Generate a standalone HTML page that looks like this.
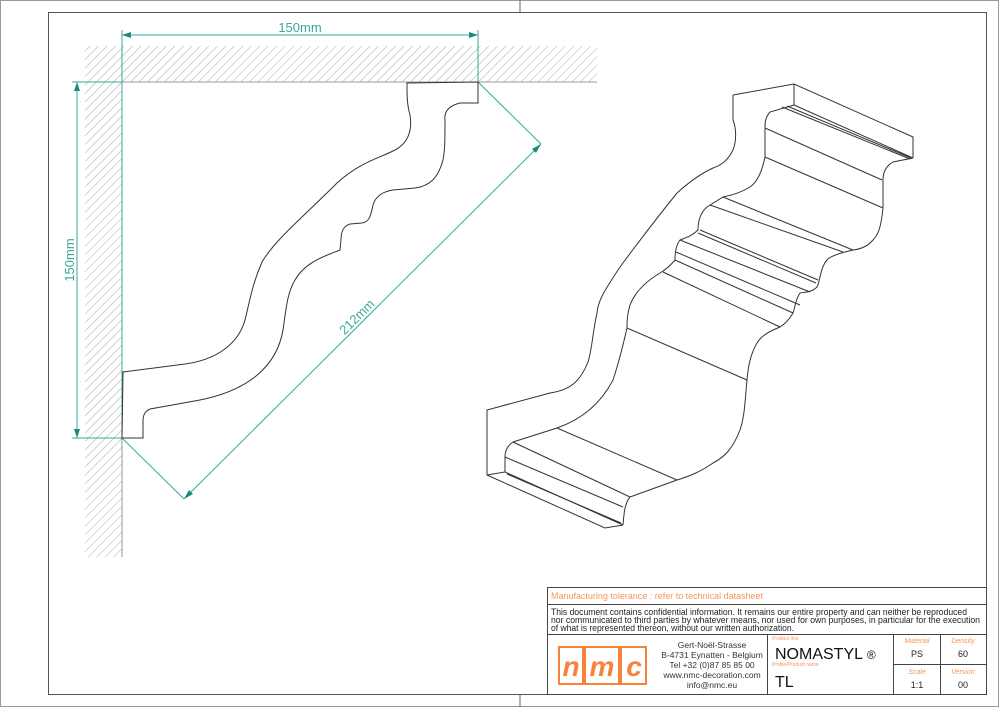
<!DOCTYPE html>
<html><head><meta charset="utf-8"><style>
html,body{margin:0;padding:0;background:#fff}
svg{display:block}
text{font-family:"Liberation Sans",sans-serif}
</style></head><body>
<svg width="1000" height="707" viewBox="0 0 1000 707" xmlns="http://www.w3.org/2000/svg">
<defs>
<pattern id="h" width="6" height="6" patternUnits="userSpaceOnUse" patternTransform="rotate(45)">
<line x1="0" y1="0" x2="0" y2="6" stroke="#aaa" stroke-width="1"/>
</pattern>
</defs>
<rect x="0.5" y="0.5" width="998" height="706" fill="none" stroke="#999"/>
<line x1="520" y1="0" x2="520" y2="12" stroke="#666"/>
<line x1="520" y1="695" x2="520" y2="707" stroke="#666"/>
<rect x="48.5" y="12.5" width="938" height="682" fill="none" stroke="#555"/>

<rect x="85" y="46" width="512" height="36" fill="url(#h)"/>
<rect x="85" y="82" width="37" height="475" fill="url(#h)"/>
<line x1="85" y1="82" x2="597" y2="82" stroke="#999"/>
<line x1="122" y1="82" x2="122" y2="557" stroke="#999"/>

<g stroke="#3aa79a" fill="none" stroke-width="1">
<line x1="122" y1="30" x2="122" y2="440"/>
<line x1="478" y1="30" x2="478" y2="82"/>
<line x1="122" y1="35" x2="478" y2="35"/>
<line x1="72" y1="82" x2="122" y2="82"/>
<line x1="72" y1="438" x2="122" y2="438"/>
<line x1="77" y1="82" x2="77" y2="438"/>
<line x1="478" y1="82" x2="541" y2="144"/>
<line x1="122" y1="438" x2="184" y2="499"/>
<line x1="184" y1="499" x2="541" y2="144"/>
</g>
<g fill="#1a8a7e">
<polygon points="122,35 131,32 131,38"/>
<polygon points="478,35 469,32 469,38"/>
<polygon points="77,82 74,91 80,91"/>
<polygon points="77,438 74,429 80,429"/>
<polygon points="541,144 532,149 536,153"/>
<polygon points="184,499 189,490 193,494"/>
</g>
<g fill="#3aa79a" font-size="13">
<text x="300" y="32" text-anchor="middle">150mm</text>
<text x="0" y="0" text-anchor="middle" transform="translate(74,260) rotate(-90)">150mm</text>
<text x="0" y="0" text-anchor="middle" transform="translate(360,320) rotate(-45)">212mm</text>
</g>

<path d="M407,83 L478,82 L478,103 L460,103 C448,106 444,112 445,120 C445,140 445,150 443,160 C438,178 430,186 415,188 L393,190 C380,192 375,198 373,205 C371,214 370,222 362,223 L350,224 C343,226 341,232 341,240 L340,250 C325,256 305,262 295,280 C287,293 286,310 283,330 C277,365 250,390 200,400 L150,409 C143,412 143,418 143,422 L143,438 L122,438 L123,372 L185,364 C215,360 238,345 245,320 C250,300 252,285 262,262 C275,240 300,220 337,183 C360,162 380,158 395,150 C410,142 412,128 410,115 C407,105 407,95 407,83 Z" fill="none" stroke="#333" stroke-width="1"/>

<g fill="none" stroke="#333" stroke-width="1">
<path d="M733,95 L794,84 L913,137 L913,158"/>
<path d="M733,95 L733,120 C736,127 737,140 733,150 C728,160 722,165 713,168 C700,174 688,183 677,193 C660,214 640,240 620,267 C605,290 598,300 597,313 C593,330 592,350 588,362 C580,382 570,390 550,393 L487,410 L487,475 L605,528 L623,525"/>
<path d="M794,84 L794,105 L770,112 C765,118 765,123 765,128 L765,157 C762,172 757,182 750,187 C742,192 733,195 723,197 L707,207 C700,213 698,222 698,230 C692,236 685,238 680,240 C676,245 675,252 675,260 C670,266 665,270 660,273 C645,282 635,292 630,305 C627,315 627,322 627,328 C622,350 618,365 613,380 C600,405 580,420 557,428 L513,442 C507,446 505,452 505,457 L505,472 L487,475"/>
<path d="M913,158 L893,162 C886,166 883,172 883,180 L883,208 C881,228 878,235 873,240 C868,246 862,249 853,250 C840,253 830,256 827,260 C820,268 820,282 817,287 C812,292 806,292 800,293 C795,300 795,308 793,313 C789,320 785,324 780,327 C765,333 760,338 757,343 C750,355 748,368 747,380 C745,400 745,415 740,430 C733,448 725,457 713,463 C700,472 690,476 677,480 L630,497 C625,503 624,512 623,525"/>
<line x1="794" y1="105" x2="913" y2="158"/>
<line x1="782" y1="107" x2="910" y2="159"/>
<line x1="787" y1="106" x2="911" y2="158"/>
<line x1="765" y1="128" x2="882" y2="180"/>
<line x1="765" y1="157" x2="883" y2="208"/>
<line x1="723" y1="197" x2="853" y2="250"/>
<line x1="710" y1="205" x2="843" y2="252"/>
<line x1="700" y1="230" x2="818" y2="280"/>
<line x1="698" y1="233" x2="816" y2="283"/>
<line x1="680" y1="240" x2="810" y2="292"/>
<line x1="676" y1="252" x2="800" y2="305"/>
<line x1="675" y1="260" x2="793" y2="313"/>
<line x1="663" y1="272" x2="780" y2="327"/>
<line x1="627" y1="328" x2="747" y2="380"/>
<line x1="557" y1="428" x2="677" y2="480"/>
<line x1="513" y1="442" x2="630" y2="497"/>
<line x1="505" y1="457" x2="623" y2="507"/>
<line x1="505" y1="472" x2="623" y2="525"/>
<line x1="507" y1="474" x2="621" y2="523"/>
</g>

<g stroke="#444" stroke-width="1" fill="none">
<rect x="547.5" y="587.5" width="439" height="107"/>
<line x1="547" y1="604.5" x2="987" y2="604.5"/>
<line x1="547" y1="634.5" x2="987" y2="634.5"/>
<line x1="767.5" y1="634" x2="767.5" y2="695"/>
<line x1="893.5" y1="634" x2="893.5" y2="695"/>
<line x1="940.5" y1="634" x2="940.5" y2="695"/>
<line x1="893" y1="664.5" x2="987" y2="664.5"/>
</g>
<text x="551" y="599" font-size="9" fill="#f7955a" textLength="212" lengthAdjust="spacingAndGlyphs">Manufacturing tolerance : refer to technical datasheet</text>
<g font-size="9.3" fill="#222">
<text x="551" y="615" textLength="416" lengthAdjust="spacingAndGlyphs">This document contains confidential information. It remains our entire property and can neither be reproduced</text>
<text x="551" y="623" textLength="429" lengthAdjust="spacingAndGlyphs">nor communicated to third parties by whatever means, nor used for own purposes, in particular for the execution</text>
<text x="551" y="631" textLength="243" lengthAdjust="spacingAndGlyphs">of what is represented thereon, without our written authorization.</text>
</g>
<g stroke="#f7823a" stroke-width="2" fill="#fff">
<rect x="559" y="647" width="24" height="37"/>
<rect x="585" y="647" width="34" height="37"/>
<rect x="621" y="647" width="25" height="37"/>
</g>
<g fill="#f7823a" font-size="28" font-weight="bold" font-style="italic" text-anchor="middle">
<text x="571" y="676">n</text>
<text x="602" y="676">m</text>
<text x="634" y="676">c</text>
</g>
<g font-size="8.5" fill="#333" text-anchor="middle">
<text x="712" y="648">Gert-Noël-Strasse</text>
<text x="712" y="658">B-4731 Eynatten - Belgium</text>
<text x="712" y="668">Tel +32 (0)87 85 85 00</text>
<text x="712" y="678">www.nmc-decoration.com</text>
<text x="712" y="688">info@nmc.eu</text>
</g>
<text x="772" y="640" font-size="5" fill="#f7955a">Product line</text>
<text x="775" y="659" font-size="16" fill="#111">NOMASTYL <tspan font-size="12">®</tspan></text>
<text x="772" y="666" font-size="5" fill="#f7955a">Profile/Product name</text>
<text x="775" y="687" font-size="16" fill="#111">TL</text>
<g font-size="7" fill="#f7955a" font-style="italic" text-anchor="middle">
<text x="917" y="643">Material</text>
<text x="963" y="643">Density</text>
<text x="917" y="674">Scale</text>
<text x="963" y="674">Version</text>
</g>
<g font-size="9" fill="#222" text-anchor="middle">
<text x="917" y="657">PS</text>
<text x="963" y="657">60</text>
<text x="917" y="688">1:1</text>
<text x="963" y="688">00</text>
</g>
</svg>
</body></html>
